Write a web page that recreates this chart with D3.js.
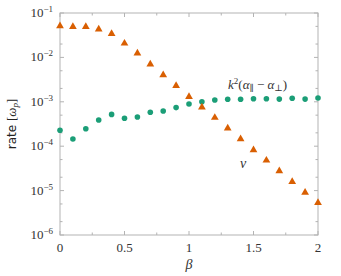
<!DOCTYPE html>
<html><head><meta charset="utf-8">
<script src="https://cdn.jsdelivr.net/npm/d3@7"></script>
<style>body{margin:0;background:#fff}svg{display:block}</style>
</head><body>
<svg id="c" width="341" height="276"></svg>
<script>
const beta = [0,0.1,0.2,0.3,0.4,0.5,0.6,0.7,0.8,0.9,1.0,1.1,1.2,1.3,1.4,1.5,1.6,1.7,1.8,1.9,2.0];
const nu = [0.051,0.049,0.049,0.043,0.034,0.0207,0.0124,0.0070,0.0040,0.0023,0.0013,7.5e-4,4.4e-4,2.53e-4,1.45e-4,8.2e-5,4.8e-5,2.76e-5,1.58e-5,9.1e-6,5.3e-6];
const kAlpha = [2.28e-4,1.45e-4,2.48e-4,3.9e-4,5.2e-4,4.25e-4,4.55e-4,5.8e-4,6.2e-4,7.4e-4,8.9e-4,1.0e-3,1.1e-3,1.14e-3,1.14e-3,1.17e-3,1.17e-3,1.15e-3,1.2e-3,1.15e-3,1.22e-3];
const xTicks = [0,0.5,1,1.5,2];
const xTickLabels = ["0","0.5","1","1.5","2"];
const yExps = [-1,-2,-3,-4,-5,-6];

const svg = d3.select("#c");
const L=60,R=318,T=13,B=235;
const x = d3.scaleLinear().domain([0,2]).range([L,R]);
const y = d3.scaleLog().domain([1e-6,1e-1]).range([B,T]);
const gray="#b3b3b3";
const serif="'Liberation Serif','DejaVu Serif',serif";
const txt="#333";

svg.append("rect").attr("x",L).attr("y",T).attr("width",R-L).attr("height",B-T)
  .attr("fill","none").attr("stroke",gray).attr("stroke-width",1);

const xMinor = d3.range(0.25,2,0.5);
const g = svg.append("g").attr("stroke",gray).attr("stroke-width",1);
xTicks.forEach(v=>{
  g.append("line").attr("x1",x(v)).attr("x2",x(v)).attr("y1",B).attr("y2",B-4);
  g.append("line").attr("x1",x(v)).attr("x2",x(v)).attr("y1",T).attr("y2",T+4);
});
xMinor.forEach(v=>{
  g.append("line").attr("x1",x(v)).attr("x2",x(v)).attr("y1",B).attr("y2",B-2.5);
  g.append("line").attr("x1",x(v)).attr("x2",x(v)).attr("y1",T).attr("y2",T+2.5);
});
yExps.forEach(e=>{
  const v=Math.pow(10,e);
  g.append("line").attr("x1",L).attr("x2",L+4).attr("y1",y(v)).attr("y2",y(v));
  g.append("line").attr("x1",R).attr("x2",R-4).attr("y1",y(v)).attr("y2",y(v));
  if(e>-6){[2,5].forEach(m=>{
    const vv=m*v/10;
    g.append("line").attr("x1",L).attr("x2",L+2.5).attr("y1",y(vv)).attr("y2",y(vv));
    g.append("line").attr("x1",R).attr("x2",R-2.5).attr("y1",y(vv)).attr("y2",y(vv));
  });}
});

xTicks.forEach((v,i)=>{
  svg.append("text").attr("x",x(v)).attr("y",B+17).attr("text-anchor","middle")
    .attr("font-family",serif).attr("font-size",13).attr("fill",txt).text(xTickLabels[i]);
});
yExps.forEach(e=>{
  const t=svg.append("text").attr("x",53).attr("y",y(Math.pow(10,e))+4).attr("text-anchor","end")
    .attr("font-family",serif).attr("font-size",13).attr("fill",txt);
  t.append("tspan").text("10");
  t.append("tspan").attr("dy",-5).attr("font-size",9).text("\u2212"+(-e));
});

svg.append("text").attr("x",189).attr("y",269).attr("text-anchor","middle")
  .attr("font-family",serif).attr("font-style","italic").attr("font-size",14).attr("fill",txt).text("\u03B2");
const yl = svg.append("text").attr("transform","translate(16,124) rotate(-90)").attr("text-anchor","middle")
  .attr("font-size",12).attr("fill","#222");
yl.append("tspan").attr("font-family","'DejaVu Sans',sans-serif").text("rate ");
yl.append("tspan").attr("font-family",serif).attr("font-size",13).text("[");
yl.append("tspan").attr("font-family",serif).attr("font-size",13).attr("font-style","italic").text("\u03C9");
yl.append("tspan").attr("font-family",serif).attr("font-style","italic").attr("font-size",9).attr("dy",2).text("p");
yl.append("tspan").attr("font-family",serif).attr("font-size",13).attr("dy",-2).text("]");

const green="#1b9e77", orange="#d95f02";
svg.append("g").selectAll("circle").data(beta).join("circle")
  .attr("cx",d=>x(d)).attr("cy",(d,i)=>y(kAlpha[i])).attr("r",2.8).attr("fill",green);
const tri = d3.symbol().type(d3.symbolTriangle).size(26);
svg.append("g").selectAll("path").data(beta).join("path")
  .attr("d",tri).attr("transform",(d,i)=>`translate(${x(d)},${y(nu[i])})`).attr("fill",orange);

const kl = svg.append("text").attr("x",228).attr("y",89).attr("font-family",serif).attr("font-size",13).attr("fill",txt);
kl.append("tspan").attr("font-style","italic").text("k");
kl.append("tspan").attr("dy",-5).attr("font-size",9).text("2");
kl.append("tspan").attr("dy",5).text("(");
kl.append("tspan").attr("font-style","italic").text("\u03B1");
kl.append("tspan").attr("font-size",9).attr("dy",2).text("\u2225");
kl.append("tspan").attr("dy",-2).text(" \u2212 ");
kl.append("tspan").attr("font-style","italic").text("\u03B1");
kl.append("tspan").attr("font-size",9).attr("dy",2).text("\u22A5");
kl.append("tspan").attr("dy",-2).text(")");
svg.append("text").attr("x",243).attr("y",168).attr("text-anchor","middle").attr("font-family",serif)
  .attr("font-style","italic").attr("font-size",14).attr("fill",txt).text("\u03BD");
</script>
</body></html>
